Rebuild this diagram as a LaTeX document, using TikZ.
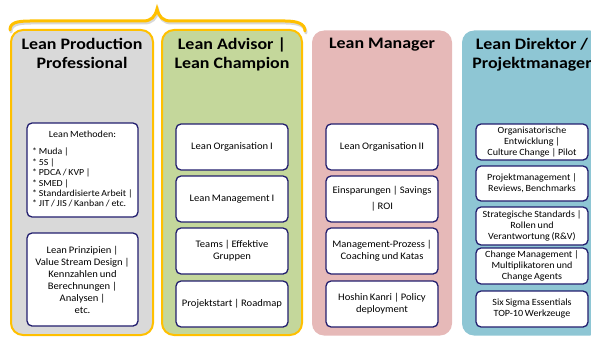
\documentclass[tikz,border=0pt]{standalone}
\usepackage{fontspec}
\setmainfont{Carlito}[FakeStretch=1.06, WordSpace=0.8]
\newfontfamily\titlefont{Carlito}[FakeStretch=1.12]
\definecolor{braceorange}{HTML}{FFC000}
\definecolor{colgray}{HTML}{D9D9D9}
\definecolor{colgreen}{HTML}{C4D79B}
\definecolor{colpink}{HTML}{E6B9B8}
\definecolor{colblue}{HTML}{8EC6D4}
\definecolor{navy}{HTML}{221E6E}
\definecolor{shadowgray}{HTML}{D8D8D8}
\tikzset{
  colbox/.style={rounded corners=12pt, minimum height=305pt, inner sep=0pt},
  framed/.style={draw=braceorange, line width=2pt},
  coltitle/.style={anchor=north, align=center, inner sep=0pt, font=\titlefont\fontsize{16}{19}\selectfont\bfseries},
  inbox/.style={draw=navy, line width=1.3pt, fill=white, rounded corners=5pt, align=center, inner sep=1pt, minimum width=112pt, font=\fontsize{10}{12}\selectfont},
  smallbox/.style={inbox, font=\fontsize{9.5}{11}\selectfont},
  bracepath/.style={draw=braceorange, line width=3pt, line cap=round},
  braceshadow/.style={draw=shadowgray, line width=3pt, line cap=round},
}
\begin{document}
\begin{tikzpicture}[x=1pt,y=-1pt]
\useasboundingbox (0,0) rectangle (591,337);
\clip (0,0) rectangle (591,337);
% brace (with soft shadow)
\draw[braceshadow] (11,32) .. controls (11,25) and (17,23) .. (31,23) -- (144,23) .. controls (152,23) and (156,19) .. (158,11) .. controls (160,19) and (164,23) .. (172,23) -- (286,23) .. controls (299,23) and (306,26) .. (306,33);
\draw[bracepath] (10,30) .. controls (10,23) and (16,21) .. (30,21) -- (143,21) .. controls (151,21) and (155,17) .. (157,9) .. controls (159,17) and (163,21) .. (171,21) -- (285,21) .. controls (298,21) and (305,24) .. (305,31);
% columns
\node[colbox, framed, fill=colgray, minimum width=142pt] (c1) at (82,182.5) {};
\node[colbox, framed, fill=colgreen, minimum width=140pt] (c2) at (232,182.5) {};
\node[colbox, fill=colpink, minimum width=140pt] (c3) at (382,183) {};
\node[colbox, fill=colblue, minimum width=140pt] (c4) at (532,183) {};
% titles
\node[coltitle] (t1) at (82,38) {Lean Production\\Professional};
\node[coltitle] (t2) at (232,38) {Lean Advisor |\\Lean Champion};
\node[coltitle] (t3) at (382,38) {Lean Manager};
\node[coltitle] (t4) at (532,38) {Lean Direktor /\\Projektmanager};
% column 1
\node[inbox, minimum width=111pt, minimum height=94pt] (a1) at (82.5,170) {};
\node[anchor=north, inner sep=0pt, font=\fontsize{9.5}{11}\selectfont] (a1h) at (82.5,131) {Lean Methoden:};
\node[anchor=north west, inner sep=0pt, align=left, font=\fontsize{9.3}{10.4}\selectfont] (a1l) at (32,148) {* Muda |\\* 5S |\\* PDCA / KVP |\\* SMED |\\* Standardisierte Arbeit |\\* JIT / JIS / Kanban / etc.};
\node[inbox, minimum width=111pt, minimum height=93pt] (a2) at (82.5,279.5) {Lean Prinzipien |\\Value Stream Design |\\Kennzahlen und\\Berechnungen |\\Analysen |\\etc.};
% column 2
\node[inbox, minimum height=46pt] (b1) at (232,147) {Lean Organisation I};
\node[inbox, minimum height=46pt] (b2) at (232,199) {Lean Management I};
\node[inbox, minimum height=46pt] (b3) at (232,251) {Teams | Effektive\\Gruppen};
\node[inbox, minimum height=46pt] (b4) at (232,304) {Projektstart | Roadmap};
% column 3
\node[inbox, minimum height=46pt] (m1) at (382,147) {Lean Organisation II};
\node[inbox, minimum height=46pt] (m2) at (382,199) {Einsparungen | Savings\\[4pt]| ROI};
\node[inbox, minimum height=46pt] (m3) at (382,251) {Management-Prozess |\\Coaching und Katas};
\node[inbox, minimum height=46pt] (m4) at (382,304) {Hoshin Kanri | Policy\\deployment};
% column 4
\node[smallbox, minimum height=36pt] (d1) at (532,142) {Organisatorische\\Entwicklung |\\Culture Change | Pilot};
\node[smallbox, minimum height=35pt] (d2) at (532,183.5) {Projektmanagement |\\Reviews, Benchmarks};
\node[smallbox, minimum height=38pt] (d3) at (532,226) {Strategische Standards |\\Rollen und\\Verantwortung (R\&V)};
\node[smallbox, minimum height=36pt] (d4) at (532,266) {Change Management |\\Multiplikatoren und\\Change Agents};
\node[smallbox, minimum height=36pt] (d5) at (532,309) {Six Sigma Essentials\\TOP-10 Werkzeuge};
\end{tikzpicture}
\end{document}
